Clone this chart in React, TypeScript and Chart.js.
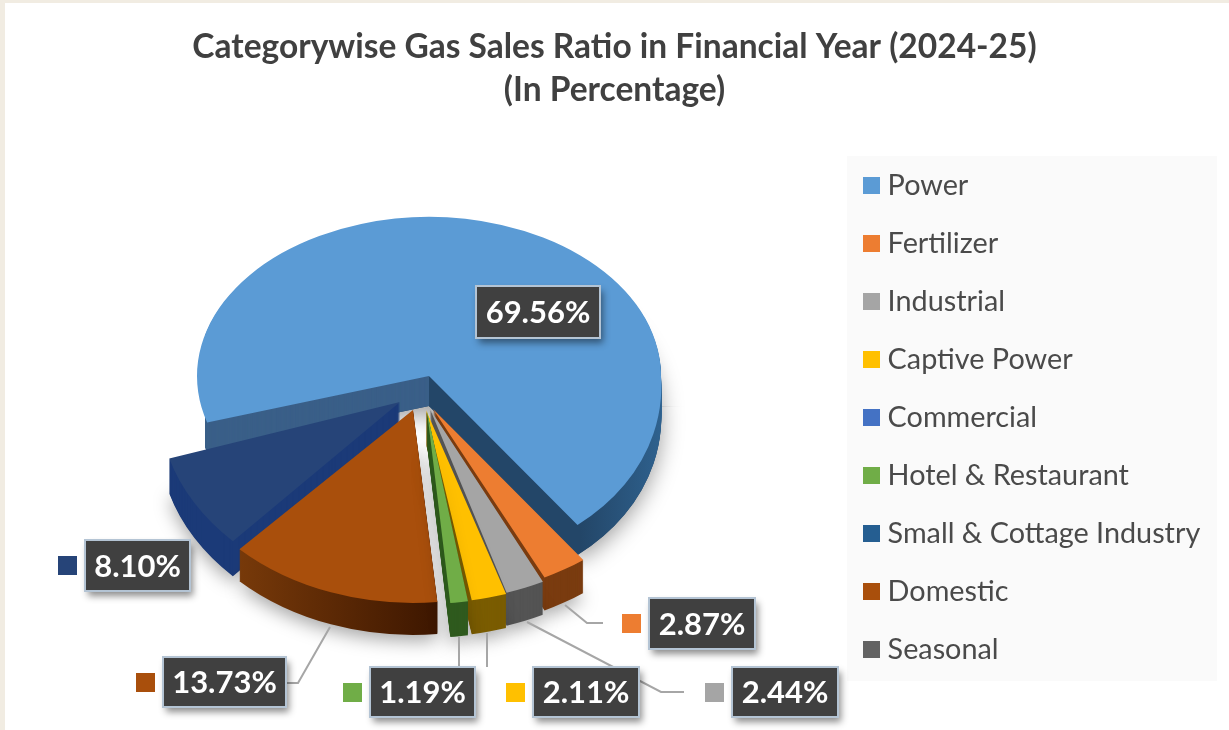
import React, { useEffect, useRef } from "react";
import { Chart, registerables } from "chart.js";

Chart.register(...registerables);

// slices, clockwise in the order the pie shows them
const categories = ["Power", "Fertilizer", "Industrial", "Captive Power", "Commercial", "Hotel & Restaurant", "Domestic", "Small & Cottage Industry", "Seasonal"];
const values = [69.56, 2.87, 2.44, 2.11, 0, 1.19, 13.73, 8.1, 0];
const sliceColors = ["#5b9bd5", "#ed7d31", "#a5a5a5", "#ffc000", "#4472c4", "#70ad47", "#a94f0c", "#264478", "#636363"];
const sideColors = ["#234668", "#7a3c10", "#545454", "#7a5c00", "#203864", "#2f5a1e", "#63300a", "#1b3a78", "#333333"];

// legend order of the reference
const legendCategories = ["Power", "Fertilizer", "Industrial", "Captive Power", "Commercial", "Hotel & Restaurant", "Small & Cottage Industry", "Domestic", "Seasonal"];
const legendColors = ["#5b9bd5", "#ed7d31", "#a5a5a5", "#ffc000", "#4472c4", "#70ad47", "#255e91", "#a94f0c", "#636363"];

const titleLines = ["Categorywise Gas Sales Ratio in Financial Year (2024-25)", "(In Percentage)"];

const APEX = { x: 429, y: 376 };
const RY_TOP = 159 / 232;
const RY_RIGHT = 0.8;
const SHEAR_RIGHT = 0.055;
const WALL_LEFT = 205;
const DEPTH: Record<string, number> = { Power: 30, Fertilizer: 33, Industrial: 33, "Captive Power": 34, "Hotel & Restaurant": 34, Domestic: 32, "Small & Cottage Industry": 35 };
// view of each pulled-out slice: apex shift x, y and stretch x, y
const VIEW: Record<string, [number, number, number, number]> = {
  Fertilizer: [4, 33, 1.087, 0.81],
  Industrial: [1, 33, 1.1, 0.83],
  "Captive Power": [-3, 34, 1.15, 0.832],
  "Hotel & Restaurant": [-2, 35, 1.03, 0.832],
  Domestic: [-16, 34, 1.08, 0.832],
  "Small & Cottage Industry": [-29, 26, 1.04, 0.832],
};
const DRAW_ORDER = ["Small & Cottage Industry", "Domestic", "Fertilizer", "Industrial", "Captive Power", "Hotel & Restaurant"];

const CALLOUTS: Record<string, { box: number[]; line?: number[][]; swatch?: string }> = {
  Power: { box: [476, 286, 124, 52] },
  "Small & Cottage Industry": { box: [85, 540, 105, 51], swatch: "#264478" },
  Domestic: { box: [163, 657, 123, 50], line: [[330, 627], [298, 683], [287, 683]] },
  "Hotel & Restaurant": { box: [370, 667, 105, 50], line: [[459, 637], [459, 667]] },
  "Captive Power": { box: [533, 667, 106, 50], line: [[487, 633], [487, 667]] },
  Industrial: { box: [732, 667, 106, 50], line: [[527, 622], [661, 692], [684, 692]] },
  Fertilizer: { box: [649, 598, 106, 51], line: [[565, 605], [587, 623], [603, 623]] },
};
const CALLOUT_ORDER = ["Industrial", "Fertilizer", "Captive Power", "Hotel & Restaurant", "Domestic", "Small & Cottage Industry", "Power"];

function swatchImage(color: string) {
  const c = document.createElement("canvas");
  c.width = 17;
  c.height = 17;
  const x = c.getContext("2d")!;
  x.fillStyle = color;
  x.fillRect(0, 0, 17, 17);
  return c;
}

function paintArc(ctx: CanvasRenderingContext2D, el: any, fill: any, ax: number, ay: number, kx: number, ky: number, shear = 0) {
  const saved = el.options;
  el.options = { ...saved, backgroundColor: fill, borderWidth: 0 };
  ctx.save();
  ctx.translate(ax, ay);
  ctx.transform(kx, 0, shear, ky, 0, 0);
  ctx.translate(-el.x, -el.y);
  el.draw(ctx);
  ctx.restore();
  el.options = saved;
}

// the back slice is foreshortened differently in its lower right part
function paintPower(ctx: CanvasRenderingContext2D, el: any, fill: any, ay: number) {
  ctx.save();
  ctx.beginPath();
  ctx.rect(0, 0, 1229, ay + 0.5);
  ctx.rect(0, ay, APEX.x, 730);
  ctx.clip();
  paintArc(ctx, el, fill, APEX.x, ay, 1, RY_TOP);
  ctx.restore();
  ctx.save();
  ctx.beginPath();
  ctx.rect(APEX.x, ay, 800, 730);
  ctx.clip();
  paintArc(ctx, el, fill, APEX.x, ay, 1, RY_RIGHT, SHEAR_RIGHT);
  ctx.restore();
}

const piePlugin = {
  id: "tiltedPie",
  beforeDraw(chart: any) {
    const { ctx } = chart;
    ctx.save();
    ctx.fillStyle = "#f1ece2";
    ctx.fillRect(0, 0, 1229, 730);
    ctx.fillStyle = "#ffffff";
    ctx.fillRect(5, 3, 1224, 727);
    ctx.fillStyle = "#fafafa";
    ctx.fillRect(847, 156, 370, 525);
    ctx.restore();
  },
  afterLayout(chart: any) {
    const lg = chart.legend;
    lg.left = 841;
    lg.top = 142;
  },
  beforeDatasetsDraw(chart: any) {
    const { ctx } = chart;
    const arcs = chart.getDatasetMeta(0).data;
    const byName = (n: string) => arcs[categories.indexOf(n)];
    const power = byName("Power");

    // back slice: extrusion, walls, top
    const depthP = DEPTH.Power;
    ctx.save();
    ctx.beginPath();
    ctx.rect(WALL_LEFT + 60, 0, 1229, 730);
    ctx.clip();
    ctx.shadowColor = "rgba(0,0,0,0.38)";
    ctx.shadowBlur = 22;
    ctx.shadowOffsetY = 6;
    paintPower(ctx, power, "#234668", APEX.y + depthP);
    ctx.restore();
    const grad = ctx.createLinearGradient(power.x + 30, 0, power.x + 232, 0);
    grad.addColorStop(0, "#234668");
    grad.addColorStop(0.55, "#234668");
    grad.addColorStop(1, "#2f628f");
    for (let d = depthP; d >= 1; d--) {
      ctx.save();
      ctx.beginPath();
      ctx.rect(APEX.x, 0, 800, 730);
      ctx.clip();
      paintPower(ctx, power, grad, APEX.y + d);
      ctx.restore();
      ctx.save();
      ctx.beginPath();
      ctx.rect(WALL_LEFT, 0, APEX.x - WALL_LEFT, 730);
      ctx.clip();
      paintPower(ctx, power, "#3a5f88", APEX.y + d);
      ctx.restore();
    }
    paintPower(ctx, power, sliceColors[0], APEX.y);

    // exploded slices, back to front
    for (const name of DRAW_ORDER) {
      const idx = categories.indexOf(name);
      const el = byName(name);
      const [sx, sy, kx, ky] = VIEW[name];
      const ax = APEX.x + sx;
      const ay = APEX.y + sy;
      let side: any = sideColors[idx];
      if (name === "Domestic") {
        const g = ctx.createLinearGradient(el.x - 170, 0, el.x + 20, 0);
        g.addColorStop(0, "#7a3b0a");
        g.addColorStop(1, "#3e1700");
        side = g;
      }
      const depth = DEPTH[name];
      ctx.save();
      ctx.shadowColor = "rgba(0,0,0,0.35)";
      ctx.shadowBlur = 18;
      ctx.shadowOffsetY = 6;
      paintArc(ctx, el, side, ax, ay + depth, kx, ky);
      ctx.restore();
      for (let d = depth - 1; d >= 1; d--) paintArc(ctx, el, side, ax, ay + d, kx, ky);
      paintArc(ctx, el, sliceColors[idx], ax, ay, kx, ky);
    }
    return false;
  },
  afterDraw(chart: any) {
    const { ctx } = chart;
    ctx.save();
    ctx.lineWidth = 2;
    for (const name of CALLOUT_ORDER) {
      const c = CALLOUTS[name];
      const idx = categories.indexOf(name);
      ctx.strokeStyle = "#a6a6a6";
      if (c.line) {
        ctx.beginPath();
        c.line.forEach((p, i) => (i ? ctx.lineTo(p[0], p[1]) : ctx.moveTo(p[0], p[1])));
        ctx.stroke();
      }
      const [x, y, w, h] = c.box;
      ctx.save();
      ctx.shadowColor = "rgba(0,0,0,0.45)";
      ctx.shadowBlur = 7;
      ctx.shadowOffsetX = 3;
      ctx.shadowOffsetY = 5;
      ctx.fillStyle = "#404040";
      ctx.fillRect(x, y, w, h);
      ctx.restore();
      ctx.strokeStyle = "#b4c4d4";
      ctx.strokeRect(x, y, w, h);
      ctx.fillStyle = "#ffffff";
      ctx.font = "bold 31px Lato";
      ctx.textAlign = "center";
      ctx.textBaseline = "middle";
      ctx.fillText(values[idx].toFixed(2) + "%", x + w / 2, y + h / 2 + 1);
      if (name !== "Power") {
        ctx.fillStyle = c.swatch || sliceColors[idx];
        ctx.fillRect(x - 27, y + 16, 19, 19);
      }
    }
    ctx.restore();
  },
};

export default function App() {
  const ref = useRef<HTMLCanvasElement>(null);
  useEffect(() => {
    const chart = new Chart(ref.current!, {
      type: "pie",
      data: {
        labels: categories,
        datasets: [{ data: values, backgroundColor: sliceColors, borderWidth: 0, radius: 232 } as any],
      },
      options: {
        responsive: false,
        animation: false,
        rotation: 253,
        plugins: {
          tooltip: { enabled: false },
          title: {
            display: true,
            text: titleLines,
            color: "#404040",
            font: { family: "Lato", size: 33.5, weight: "bold", lineHeight: 1.28 },
            padding: { top: 26, bottom: 10 },
          },
          legend: {
            display: true,
            position: "right",
            align: "start",
            labels: {
              usePointStyle: true,
              pointStyleWidth: 3,
              boxHeight: 17,
              padding: 29.2,
              color: "#404040",
              font: { family: "Lato", size: 28.8 },
              generateLabels: () =>
                legendCategories.map((text, i) => ({
                  text,
                  fillStyle: legendColors[i],
                  strokeStyle: legendColors[i],
                  fontColor: "#4a4a4a",
                  lineWidth: 0,
                  hidden: false,
                  index: i,
                  pointStyle: swatchImage(legendColors[i]),
                })) as any,
            },
          },
        },
      } as any,
      plugins: [piePlugin as any],
    });
    return () => chart.destroy();
  }, []);
  return (
    <div style={{ position: "absolute", left: 0, top: 0, width: 1229, height: 730 }}>
      <canvas ref={ref} width={1229} height={730} style={{ display: "block", filter: "blur(0.5px)" }} />
    </div>
  );
}
